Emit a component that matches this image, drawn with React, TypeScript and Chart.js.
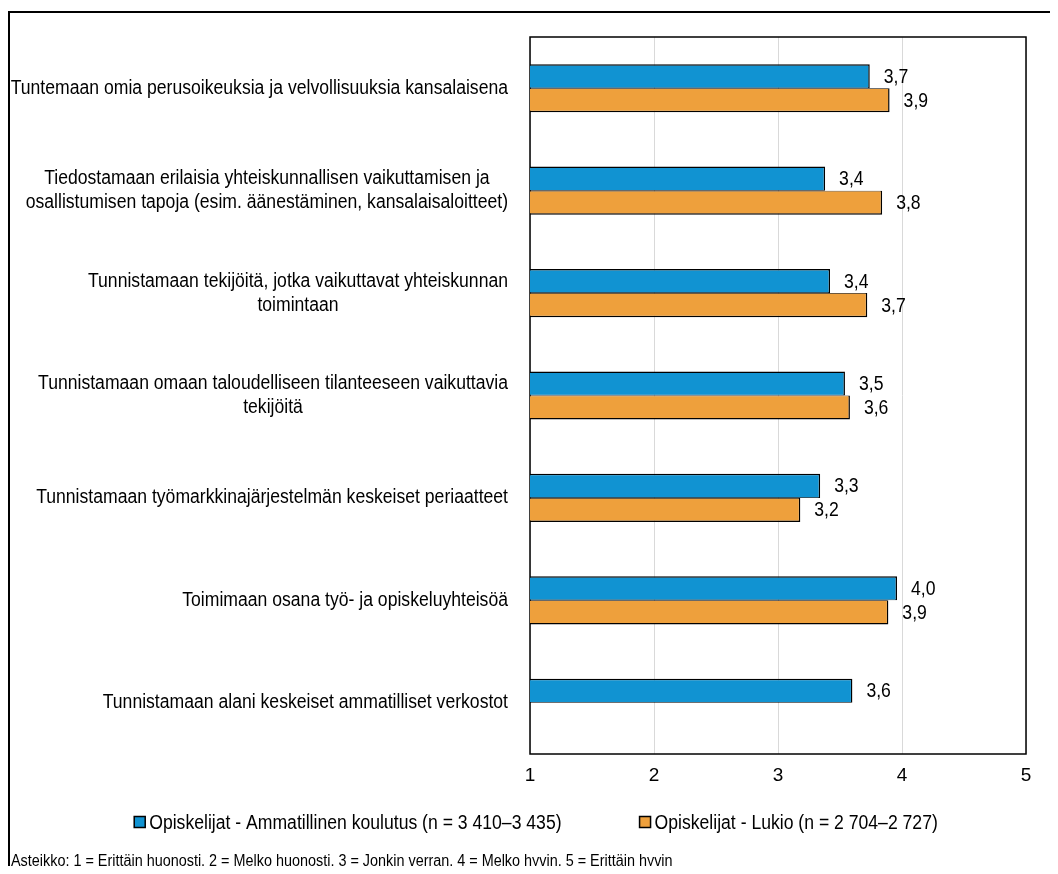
import React, { useEffect, useRef } from "react";
import { Chart, registerables } from "chart.js";

Chart.register(...registerables);

const categories: string[][] = [
  ["Tuntemaan omia perusoikeuksia ja velvollisuuksia kansalaisena"],
  ["Tiedostamaan erilaisia yhteiskunnallisen vaikuttamisen ja", "osallistumisen tapoja (esim. äänestäminen, kansalaisaloitteet)"],
  ["Tunnistamaan tekijöitä, jotka vaikuttavat yhteiskunnan", "toimintaan"],
  ["Tunnistamaan omaan taloudelliseen tilanteeseen vaikuttavia", "tekijöitä"],
  ["Tunnistamaan työmarkkinajärjestelmän keskeiset periaatteet"],
  ["Toimimaan osana työ- ja opiskeluyhteisöä"],
  ["Tunnistamaan alani keskeiset ammatilliset verkostot"],
];

const ammatillinen: (number | null)[] = [3.74, 3.38, 3.42, 3.54, 3.34, 3.96, 3.6];
const lukio: (number | null)[] = [3.9, 3.84, 3.72, 3.58, 3.18, 3.89, null];

const seriesNames = [
  "Opiskelijat - Ammatillinen koulutus (n = 3 410–3 435)",
  "Opiskelijat - Lukio (n = 2 704–2 727)",
];
const seriesColors = ["#1193D2", "#EEA03C"];

const xTickLabels = ["1", "2", "3", "4", "5"];

const footnote =
  "Asteikko: 1 = Erittäin huonosti, 2 = Melko huonosti, 3 = Jonkin verran, 4 = Melko hyvin, 5 = Erittäin hyvin";

const FONT = "'Liberation Sans Narrow', 'Arial Narrow', 'Liberation Sans', Arial, sans-serif";
const FS = 20;
const SX = 0.88; // horizontal condensing to mimic a narrow face

const fmt = (v: number) => v.toFixed(1).replace(".", ",");

function drawNarrow(ctx: CanvasRenderingContext2D, text: string, x: number, y: number) {
  ctx.save();
  ctx.translate(x, y);
  ctx.scale(SX, 1);
  ctx.fillText(text, 0, 0);
  ctx.restore();
}

export default function App() {
  const ref = useRef<HTMLCanvasElement | null>(null);

  useEffect(() => {
    if (!ref.current) return;

    const frame = {
      id: "frame",
      beforeDatasetsDraw(chart: any) {
        const { ctx, chartArea: a } = chart;
        ctx.save();
        ctx.strokeStyle = "#000";
        ctx.lineWidth = 1.5;
        ctx.strokeRect(a.left, a.top, a.right - a.left, a.bottom - a.top);
        ctx.restore();
      },
    };

    const catLabels = {
      id: "catLabels",
      afterDraw(chart: any) {
        const { ctx, chartArea: a } = chart;
        const ys = chart.scales.y;
        ctx.save();
        ctx.font = `${FS}px ${FONT}`;
        ctx.fillStyle = "#000";
        ctx.textAlign = "center";
        ctx.textBaseline = "middle";
        const lh = 24;
        const right = a.left - 22;
        categories.forEach((lines, i) => {
          const y = ys.getPixelForValue(i);
          const w = Math.max(...lines.map((l) => ctx.measureText(l).width)) * SX;
          const cx = right - w / 2;
          lines.forEach((l, j) => {
            drawNarrow(ctx, l, cx, y - ((lines.length - 1) * lh) / 2 + j * lh);
          });
        });
        ctx.restore();
      },
    };

    const valueLabels = {
      id: "valueLabels",
      afterDatasetsDraw(chart: any) {
        const { ctx } = chart;
        ctx.save();
        ctx.font = `${FS}px ${FONT}`;
        ctx.fillStyle = "#000";
        ctx.textAlign = "left";
        ctx.textBaseline = "middle";
        chart.data.datasets.forEach((ds: any, di: number) => {
          const meta = chart.getDatasetMeta(di);
          meta.data.forEach((el: any, i: number) => {
            const v = ds.data[i];
            if (v === null || v === undefined) return;
            drawNarrow(ctx, fmt(v), el.x + 14, el.y + 1);
          });
        });
        ctx.restore();
      },
    };

    // legend drawn from the datasets, Excel-like spacing
    const bottomLegend = {
      id: "bottomLegend",
      afterDraw(chart: any) {
        const { ctx } = chart;
        ctx.save();
        ctx.font = `${FS}px ${FONT}`;
        ctx.textBaseline = "middle";
        ctx.textAlign = "left";
        const box = 11;
        const gapText = 4;
        const gapItem = 78;
        const items = chart.data.datasets.map((ds: any) => ({
          text: ds.label,
          color: ds.backgroundColor,
          w: ctx.measureText(ds.label).width * SX,
        }));
        const total =
          items.reduce((s: number, it: any) => s + box + gapText + it.w, 0) + gapItem * (items.length - 1);
        let x = 526 - total / 2;
        const y = 809;
        items.forEach((it: any) => {
          ctx.fillStyle = it.color;
          ctx.fillRect(x, y - box / 2, box, box);
          ctx.strokeStyle = "#000";
          ctx.lineWidth = 1.5;
          ctx.strokeRect(x, y - box / 2, box, box);
          x += box + gapText;
          ctx.fillStyle = "#000";
          drawNarrow(ctx, it.text, x, y + 1);
          x += it.w + gapItem;
        });
        ctx.restore();
      },
    };

    const chart = new Chart(ref.current, {
      type: "bar",
      data: {
        labels: categories.map((c) => c.join(" ")),
        datasets: [
          {
            label: seriesNames[0],
            data: ammatillinen,
            backgroundColor: seriesColors[0],
            borderColor: "#000",
            borderWidth: { top: 1.5, right: 1.5, bottom: 0.75, left: 1.5 },
            borderSkipped: false,
          },
          {
            label: seriesNames[1],
            data: lukio,
            backgroundColor: seriesColors[1],
            borderColor: "#000",
            borderWidth: { top: 0.75, right: 1.5, bottom: 1.5, left: 1.5 },
            borderSkipped: false,
          },
        ] as any,
      },
      options: {
        indexAxis: "y",
        animation: false,
        responsive: false,
        maintainAspectRatio: false,
        layout: { padding: { top: 24, right: 24, left: 0, bottom: 72 } },
        datasets: { bar: { categoryPercentage: 0.47, barPercentage: 1 } },
        scales: {
          y: {
            type: "category",
            ticks: { display: false },
            grid: { display: false, drawTicks: false },
            border: { display: false },
            afterFit(scale: any) {
              scale.width = 520;
            },
          },
          x: {
            type: "linear",
            min: 1,
            max: 5,
            ticks: {
              stepSize: 1,
              autoSkip: false,
              maxRotation: 0,
              color: "#000",
              font: { family: FONT, size: 19 },
              padding: 10,
              callback: (v: any) => xTickLabels[Math.round(Number(v)) - 1] ?? "",
            },
            grid: { color: "#D9D9D9", lineWidth: 1, drawTicks: false },
            border: { display: false },
            afterFit(scale: any) {
              scale.height = 40;
            },
          },
        },
        plugins: {
          legend: { display: false },
          tooltip: { enabled: false },
        },
      } as any,
      plugins: [frame, catLabels, valueLabels, bottomLegend],
    });

    return () => chart.destroy();
  }, []);

  return (
    <div
      style={{
        marginTop: 3,
        width: 1042,
        height: 855,
        boxSizing: "border-box",
        borderLeft: "2px solid #000",
        borderTop: "2px solid #000",
        position: "relative",
        overflow: "hidden",
      }}
    >
      <canvas ref={ref} width={1040} height={853} style={{ display: "block", width: 1040, height: 853 }} />
      <div
        style={{
          position: "absolute",
          left: 1,
          top: 839,
          font: `16px ${FONT}`,
          lineHeight: "18px",
          color: "#000",
          whiteSpace: "nowrap",
          transform: "scaleX(0.9)",
          transformOrigin: "left center",
        }}
      >
        {footnote}
      </div>
    </div>
  );
}
